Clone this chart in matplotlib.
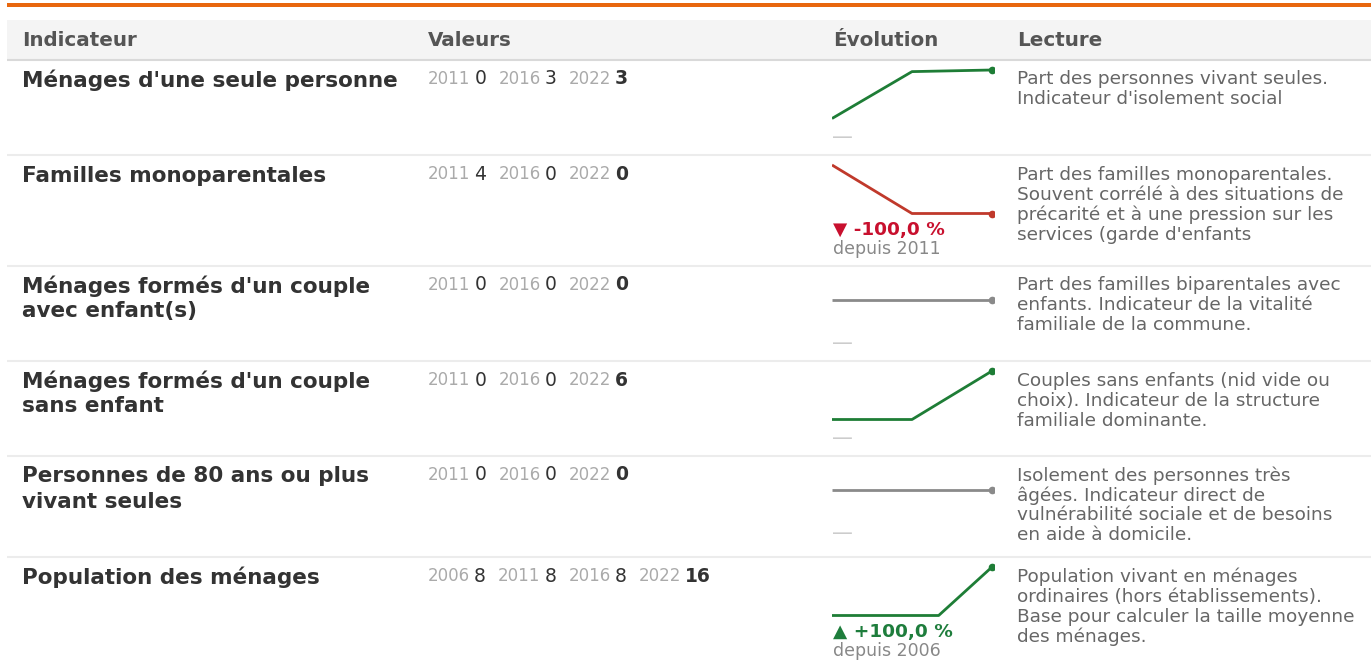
import matplotlib
matplotlib.use("Agg")
import matplotlib.pyplot as plt
from matplotlib.patches import Rectangle

W, H, DPI = 1371, 660, 100

headers = ["Indicateur", "Valeurs", "Évolution", "Lecture"]

titles = [
    ["Ménages d'une seule personne"],
    ["Familles monoparentales"],
    ["Ménages formés d'un couple", "avec enfant(s)"],
    ["Ménages formés d'un couple", "sans enfant"],
    ["Personnes de 80 ans ou plus", "vivant seules"],
    ["Population des ménages"],
]

years = [
    [2011, 2016, 2022],
    [2011, 2016, 2022],
    [2011, 2016, 2022],
    [2011, 2016, 2022],
    [2011, 2016, 2022],
    [2006, 2011, 2016, 2022],
]

values = [
    [0, 2.9, 3.0],
    [4, 0, 0],
    [0, 0, 0],
    [0, 0, 6],
    [0, 0, 0],
    [8, 8, 8, 16],
]

lectures = [
    ["Part des personnes vivant seules.", "Indicateur d'isolement social"],
    ["Part des familles monoparentales.", "Souvent corrélé à des situations de",
     "précarité et à une pression sur les", "services (garde d'enfants"],
    ["Part des familles biparentales avec", "enfants. Indicateur de la vitalité",
     "familiale de la commune."],
    ["Couples sans enfants (nid vide ou", "choix). Indicateur de la structure",
     "familiale dominante."],
    ["Isolement des personnes très", "âgées. Indicateur direct de",
     "vulnérabilité sociale et de besoins", "en aide à domicile."],
    ["Population vivant en ménages", "ordinaires (hors établissements).",
     "Base pour calculer la taille moyenne", "des ménages."],
]

# layout (pixels)
row_tops = [60, 155, 266, 361, 456, 557]
col_x = [22, 428, 833, 1017]
spark_x0, spark_x1 = 832, 992
clip_right = 993.5
pad_v = 8

GREEN_LINE = "#1e7d36"
RED_LINE = "#c0392b"
GRAY_LINE = "#8a8a8a"
GREEN_TXT = "#1e7d3c"
RED_TXT = "#c8102e"

fig = plt.figure(figsize=(W / DPI, H / DPI), dpi=DPI)
fig.patch.set_facecolor("white")
ax = fig.add_axes([0, 0, 1, 1])
ax.set_xlim(0, W)
ax.set_ylim(H, 0)
ax.axis("off")

# orange top rule
ax.add_patch(Rectangle((7, 3), W - 7, 4, color="#e8670e", lw=0))
# header band
ax.add_patch(Rectangle((7, 19.5), W - 7, 40, color="#f4f4f4", lw=0))
ax.plot([7, W], [59.5, 59.5], color="#d9d9d9", lw=1.5, solid_capstyle="butt")
for t in row_tops[1:]:
    ax.plot([7, W], [t, t], color="#ececec", lw=1.5, solid_capstyle="butt")

for hx, htxt in zip(col_x, headers):
    ax.text(hx, 40, htxt, fontsize=14.3, fontweight="bold", color="#555555",
            va="center", ha="left")

fig.canvas.draw()
renderer = fig.canvas.get_renderer()


def text_width(t):
    bb = t.get_window_extent(renderer=renderer)
    return bb.width


def fmt_pct(p):
    s = f"{p:+.1f}".replace(".", ",")
    return s + " %"


for i, top in enumerate(row_tops):
    # titles
    for j, line in enumerate(titles[i]):
        ax.text(22, top + 20.5 + 25 * j, line, fontsize=15.5, fontweight="bold",
                color="#333333", va="center", ha="left")
    # values
    x = 428
    vy = top + 19
    n = len(values[i])
    for k, (yr, v) in enumerate(zip(years[i], values[i])):
        t1 = ax.text(x, vy, str(yr), fontsize=12, color="#aaaaaa",
                     va="center", ha="left")
        x += text_width(t1) + 4
        t2 = ax.text(x, vy, f"{v:.0f}", fontsize=13.5, color="#333333",
                     fontweight="bold" if k == n - 1 else "normal",
                     va="center", ha="left")
        x += text_width(t2) + 12
    # lecture
    for j, line in enumerate(lectures[i]):
        ax.text(1017, top + 19.5 + 20 * j, line, fontsize=13.3, color="#666666",
                va="center", ha="left")

    # sparkline
    vals = values[i]
    first, last = vals[0], vals[-1]
    if last > first:
        col = GREEN_LINE
    elif last < first:
        col = RED_LINE
    else:
        col = GRAY_LINE
    y_top, y_bot = top + 10, top + 58.5
    # axes box extends a little so that only the right edge clips the end dot
    ax_top, ax_bot = y_top - pad_v, y_bot + pad_v
    sax = fig.add_axes([spark_x0 / W, 1 - ax_bot / H,
                        (clip_right - spark_x0) / W, (ax_bot - ax_top) / H])
    sax.axis("off")
    xs = list(range(len(vals)))
    nseg = len(vals) - 1
    sax.set_xlim(0, nseg * (clip_right - spark_x0) / (spark_x1 - spark_x0))
    vmin, vmax = min(vals), max(vals)
    if vmin == vmax:
        lo, hi = vmin - 1, vmax + 1
    else:
        lo, hi = vmin, vmax
    per_px = (hi - lo) / (y_bot - y_top)
    sax.set_ylim(lo - pad_v * per_px, hi + pad_v * per_px)
    sax.plot(xs, vals, color=col, lw=2.0, clip_on=True, solid_capstyle="butt")
    sax.plot([xs[-1]], [vals[-1]], "o", color=col, ms=5.5, mew=0, clip_on=True)

    # change text
    if first == 0:
        ax.text(832, top + 77, "\u2014", fontsize=15, color="#cccccc",
                va="center", ha="left")
    else:
        pct = (last - first) / first * 100
        if pct < 0:
            lab, c = "\u25bc " + fmt_pct(pct).replace("+", ""), RED_TXT
        else:
            lab, c = "\u25b2 " + fmt_pct(pct), GREEN_TXT
        ax.text(833, top + 74.5, lab, fontsize=13.3, fontweight="bold", color=c,
                va="center", ha="left")
        ax.text(833, top + 94.5, f"depuis {years[i][0]}", fontsize=12.5,
                color="#888888", va="center", ha="left")

fig.savefig("out.png", dpi=DPI, facecolor="white")
